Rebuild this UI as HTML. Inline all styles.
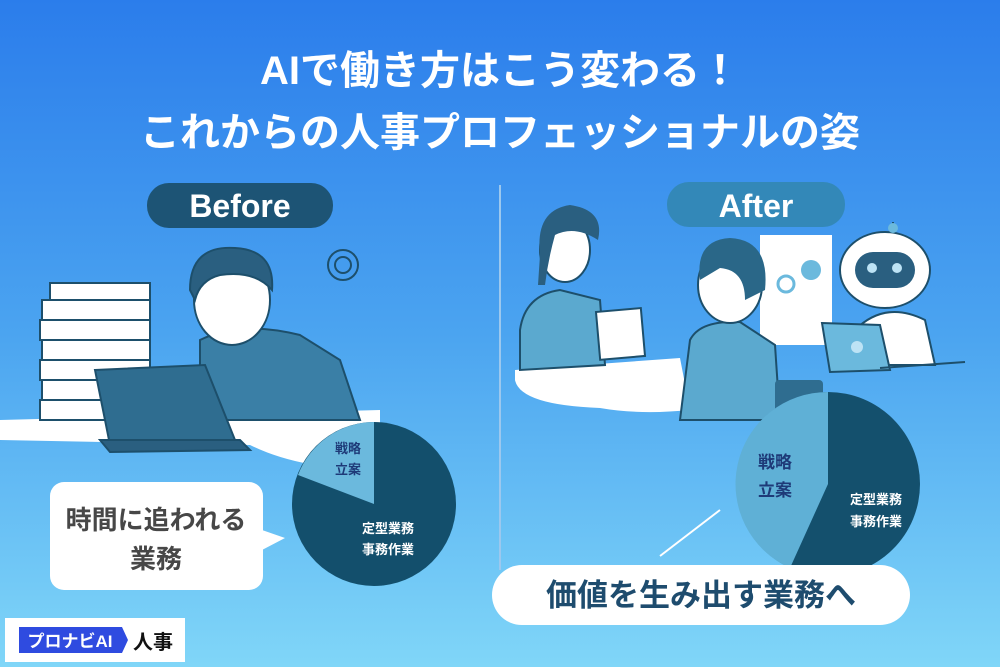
<!DOCTYPE html>
<html><head><meta charset="utf-8"><style>
html,body{margin:0;padding:0}
body{width:1000px;height:667px;overflow:hidden;font-family:"Liberation Sans","Noto Sans CJK JP",sans-serif;}
</style></head><body>
<svg width="1000" height="667" viewBox="0 0 1000 667" xmlns="http://www.w3.org/2000/svg" font-family="Liberation Sans, Noto Sans CJK JP, sans-serif">
<defs>
<linearGradient id="bg" x1="0" y1="0" x2="0" y2="1">
<stop offset="0" stop-color="#2b7deb"/><stop offset="0.5" stop-color="#4ba4f0"/><stop offset="1" stop-color="#80d6f8"/>
</linearGradient>
</defs>
<rect width="1000" height="667" fill="url(#bg)"/>
<text x="500" y="84" text-anchor="middle" font-size="40" font-weight="bold" fill="#fff">AIで働き方はこう変わる！</text>
<text x="500" y="146" text-anchor="middle" font-size="40" font-weight="bold" fill="#fff">これからの人事プロフェッショナルの姿</text>
<line x1="500" y1="185" x2="500" y2="570" stroke="#9cc8ee" stroke-width="2"/>

<rect x="147" y="183" width="186" height="45" rx="22" fill="#1d5475"/>
<text x="240" y="217" text-anchor="middle" font-size="32" font-weight="bold" fill="#fff">Before</text>

<path d="M0 420 L380 410 L380 470 Q300 470 250 445 L0 440Z" fill="#fff"/>
<g stroke="#1d4f6b" stroke-width="2" fill="#fff">
<rect x="42" y="300" width="108" height="20"/><rect x="40" y="320" width="110" height="20"/><rect x="42" y="340" width="108" height="20"/><rect x="40" y="360" width="110" height="20"/><rect x="42" y="380" width="108" height="20"/><rect x="40" y="400" width="110" height="20"/>
<rect x="50" y="283" width="100" height="17"/>
</g>
<path d="M200 340 Q240 320 300 335 L340 360 L360 420 L200 420Z" fill="#3a7fa6" stroke="#1d4f6b" stroke-width="2"/>
<ellipse cx="232" cy="300" rx="38" ry="45" fill="#fff" stroke="#1d4f6b" stroke-width="2"/>
<path d="M190 290 Q190 245 235 248 Q275 250 272 290 Q255 270 220 275 Q200 280 195 300Z" fill="#2a5f80" stroke="#1d4f6b" stroke-width="2"/>
<circle cx="343" cy="265" r="15" fill="none" stroke="#1d4f6b" stroke-width="2"/>
<circle cx="343" cy="265" r="8" fill="none" stroke="#1d4f6b" stroke-width="2"/>
<path d="M95 370 L205 365 L235 440 L110 445Z" fill="#2f6d90" stroke="#1d4f6b" stroke-width="2"/>
<path d="M100 440 L240 440 L250 450 L110 452Z" fill="#2a5f80" stroke="#1d4f6b" stroke-width="2"/>

<circle cx="374" cy="504" r="82" fill="#134f6c"/>
<path d="M374 504 L374 422 A82 82 0 0 0 298 475 Z" fill="#6bb9dd"/>
<text x="348" y="453" text-anchor="middle" font-size="13" font-weight="bold" fill="#1e3a78">戦略</text>
<text x="348" y="474" text-anchor="middle" font-size="13" font-weight="bold" fill="#1e3a78">立案</text>
<text x="388" y="533" text-anchor="middle" font-size="13" font-weight="bold" fill="#fff">定型業務</text>
<text x="388" y="554" text-anchor="middle" font-size="13" font-weight="bold" fill="#fff">事務作業</text>

<rect x="50" y="482" width="213" height="108" rx="14" fill="#fff"/>
<path d="M262 530 L285 538 L262 550Z" fill="#fff"/>
<text x="156" y="529" text-anchor="middle" font-size="26" font-weight="bold" fill="#474747">時間に追われる</text>
<text x="156" y="568" text-anchor="middle" font-size="26" font-weight="bold" fill="#474747">業務</text>

<rect x="5" y="618" width="180" height="44" fill="#fff"/>
<path d="M19 627 L122 627 L128 640 L122 653 L19 653Z" fill="#2f4be0"/>
<text x="70" y="647" text-anchor="middle" font-size="17" font-weight="bold" fill="#fff">プロナビAI</text>
<text x="133" y="649" font-size="20" font-weight="bold" fill="#111">人事</text>

<rect x="667" y="182" width="178" height="45" rx="22" fill="#3388b8"/>
<text x="756" y="217" text-anchor="middle" font-size="32" font-weight="bold" fill="#fff">After</text>

<path d="M515 370 L680 358 L690 410 Q640 415 600 408 Q520 405 515 380Z" fill="#fff"/>
<rect x="760" y="235" width="72" height="110" fill="#fff"/>
<circle cx="811" cy="270" r="10" fill="#6bb9dd"/>
<circle cx="786" cy="284" r="8" fill="none" stroke="#6bb9dd" stroke-width="3"/>
<path d="M520 330 Q525 295 560 290 L600 300 L605 365 L520 370Z" fill="#5ba9cf" stroke="#1d4f6b" stroke-width="2"/>
<ellipse cx="565" cy="250" rx="25" ry="32" fill="#fff" stroke="#1d4f6b" stroke-width="2"/>
<path d="M540 255 Q535 210 570 205 Q605 210 598 240 Q575 225 555 235 Q548 260 545 285 L538 285Z" fill="#2a5f80"/>
<rect x="598" y="310" width="45" height="48" fill="#fff" stroke="#1d4f6b" stroke-width="2" transform="rotate(-5 620 334)"/>
<path d="M690 340 Q700 320 740 322 L775 345 L780 420 L680 420Z" fill="#5ba9cf" stroke="#1d4f6b" stroke-width="2"/>
<ellipse cx="730" cy="285" rx="32" ry="38" fill="#fff" stroke="#1d4f6b" stroke-width="2"/>
<path d="M700 280 Q695 240 730 238 Q770 240 765 290 L745 300 Q745 270 720 268Z" fill="#2a6788"/>
<rect x="775" y="380" width="48" height="40" rx="4" fill="#2f6d90"/>
<ellipse cx="885" cy="270" rx="45" ry="38" fill="#fff" stroke="#1d4f6b" stroke-width="2"/>
<rect x="855" y="252" width="60" height="36" rx="18" fill="#2a5f80"/>
<circle cx="872" cy="268" r="5" fill="#bde3f5"/><circle cx="897" cy="268" r="5" fill="#bde3f5"/>
<line x1="893" y1="232" x2="893" y2="222" stroke="#1d4f6b" stroke-width="2"/><circle cx="893" cy="228" r="5" fill="#6bb9dd"/>
<path d="M855 330 Q885 300 925 320 L935 365 L860 365Z" fill="#fff" stroke="#1d4f6b" stroke-width="2"/>
<path d="M822 323 L880 325 L890 370 L830 372Z" fill="#6bb9dd" stroke="#1d4f6b" stroke-width="2"/>
<circle cx="857" cy="347" r="6" fill="#bde3f5"/>
<line x1="880" y1="368" x2="965" y2="362" stroke="#1d4f6b" stroke-width="2"/>

<circle cx="828" cy="484" r="92" fill="#14506d"/>
<path d="M828 484 L828 392 A92 92 0 0 0 790 568 Z" fill="#5fb0d6"/>
<line x1="720" y1="510" x2="660" y2="556" stroke="#fff" stroke-width="2"/>
<text x="775" y="468" text-anchor="middle" font-size="17" font-weight="bold" fill="#1e3a78">戦略</text>
<text x="775" y="496" text-anchor="middle" font-size="17" font-weight="bold" fill="#1e3a78">立案</text>
<text x="876" y="504" text-anchor="middle" font-size="13" font-weight="bold" fill="#fff">定型業務</text>
<text x="876" y="526" text-anchor="middle" font-size="13" font-weight="bold" fill="#fff">事務作業</text>

<rect x="492" y="565" width="418" height="60" rx="30" fill="#fff"/>
<text x="701" y="606" text-anchor="middle" font-size="31" font-weight="bold" fill="#1e4c6e">価値を生み出す業務へ</text>
</svg>
</body></html>
